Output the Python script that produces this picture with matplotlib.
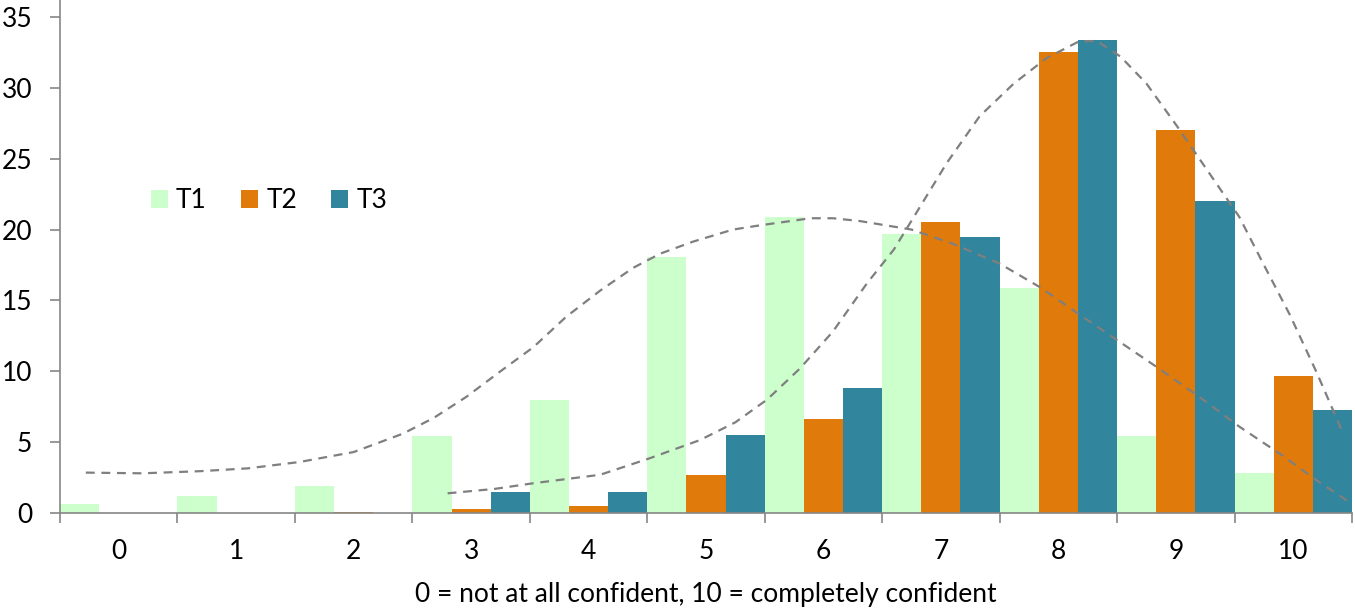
import matplotlib.pyplot as plt
import numpy as np

plt.rcParams['font.family'] = ['Lato', 'DejaVu Sans']

categories = [0, 1, 2, 3, 4, 5, 6, 7, 8, 9, 10]
t1 = [0.6, 1.2, 1.9, 5.4, 8.0, 18.1, 20.9, 19.7, 15.9, 5.4, 2.8]
t2 = [0, 0, 0.1, 0.3, 0.5, 2.7, 6.6, 20.5, 32.5, 27.0, 9.7]
t3 = [0, 0, 0, 1.5, 1.5, 5.5, 8.8, 19.5, 33.4, 22.0, 7.3]

# dashed trend curves
fit1_x = [-0.28, 0.2, 0.69, 1.1, 1.54, 2.0, 2.42, 2.68, 2.96, 3.25, 3.53, 3.81, 4.1, 4.38,
          4.61, 4.89, 5.23, 5.46, 5.89, 6.08, 6.31, 6.75, 7.1, 7.5, 7.85, 8.18, 8.5, 8.82,
          9.2, 9.54, 9.9, 10.2, 10.58]
fit1_y = [2.85, 2.8, 2.95, 3.15, 3.6, 4.3, 5.6, 6.7, 8.2, 10.0, 11.7, 13.85, 15.7, 17.3,
          18.3, 19.15, 20.0, 20.3, 20.8, 20.8, 20.6, 20.0, 19.0, 17.6, 15.9, 14.0, 12.2, 10.4,
          8.2, 6.1, 4.1, 2.3, 0.2]
fit2_x = [2.8, 3.2, 3.53, 4.1, 4.52, 4.95, 5.25, 5.52, 5.8, 6.08, 6.37, 6.6, 6.77, 7.05,
          7.33, 7.62, 7.9, 8.18, 8.33, 8.53, 8.75, 9.01, 9.25, 9.54, 9.75, 9.97, 10.2, 10.42]
fit2_y = [1.39, 1.7, 2.1, 2.7, 3.86, 5.15, 6.4, 8.0, 10.2, 12.8, 16.2, 18.6, 20.9, 24.7,
          28.0, 30.3, 32.1, 33.3, 33.3, 32.2, 30.3, 27.3, 24.4, 20.9, 17.5, 14.0, 9.9, 5.7]

W, H = 1355, 613
fig = plt.figure(figsize=(W / 100, H / 100), dpi=100)
ax = fig.add_axes([60 / W, 100 / H, 1292 / W, 513 / H])

x = np.array(categories)
w = 1 / 3
ax.bar(x - w, t1, w, color='#CCFFCC', label='T1', zorder=2)
ax.bar(x, t2, w, color='#E07B0B', label='T2', zorder=2)
ax.bar(x + w, t3, w, color='#31859C', label='T3', zorder=2)

ax.plot(fit1_x, fit1_y, ls=(0, (4, 3)), color='#7F7F7F', lw=1.6, zorder=3)
ax.plot(fit2_x, fit2_y, ls=(0, (4, 3)), color='#7F7F7F', lw=1.6, zorder=3)

ax.set_xlim(-0.5, 10.5)
ax.set_ylim(0, 36.2)
ax.set_yticks(range(0, 36, 5))
ax.set_xticks(categories)
ax.set_xticks(np.arange(-0.5, 11, 1), minor=True)
ax.tick_params(axis='x', which='major', length=0, pad=19, labelsize=19)
ax.tick_params(axis='x', which='minor', length=7, color='#868686', width=1.2)
ax.tick_params(axis='y', length=7, color='#868686', width=1.2, labelsize=19, pad=13)

for s in ['top', 'right']:
    ax.spines[s].set_visible(False)
for s in ['left', 'bottom']:
    ax.spines[s].set_color('#868686')
    ax.spines[s].set_linewidth(1.2)

ax.set_xlabel('0 = not at all confident, 10 = completely confident', fontsize=19, labelpad=13)

ax.legend(loc='center left', bbox_to_anchor=(0.052, 0.609), ncol=3, frameon=False,
          fontsize=19, handlelength=0.65, handleheight=0.65, handletextpad=0.3,
          columnspacing=1.3)

fig.savefig('out.png', dpi=100)
